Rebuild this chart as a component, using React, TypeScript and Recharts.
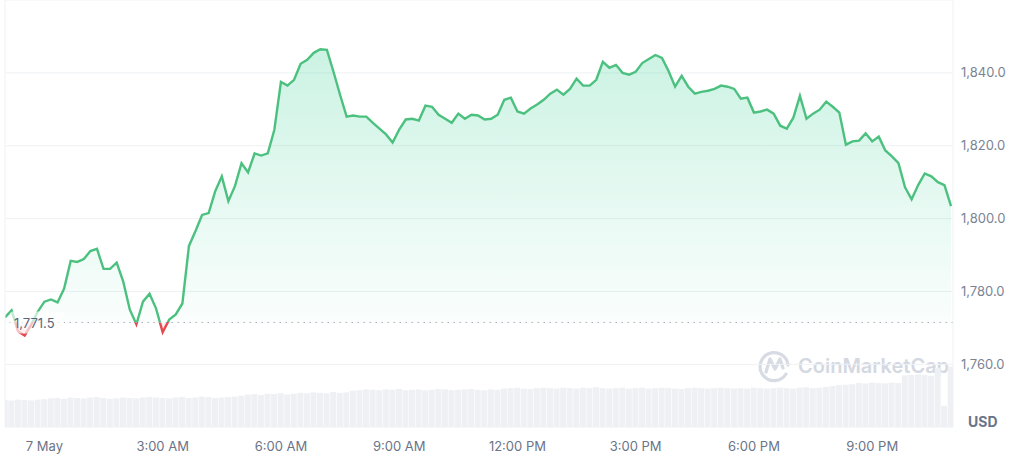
import {
  Area,
  Bar,
  CartesianGrid,
  ComposedChart,
  ReferenceLine,
  XAxis,
  YAxis,
} from "recharts";

// ETH / USD, 1D view, one point every 10 minutes starting 23:00 the day before
const startHour = -1;
const stepHours = 1 / 6;

const prices = [
  1772.9, 1774.8, 1769.0, 1767.9, 1770.9, 1774.5, 1777.2, 1777.8, 1777.0, 1780.8,
  1788.4, 1788.1, 1788.9, 1791.1, 1791.7, 1786.2, 1786.2, 1787.9, 1782.7, 1775.0,
  1771.0, 1777.2, 1779.4, 1775.3, 1768.8, 1772.3, 1773.7, 1776.7, 1792.5, 1796.6,
  1801.0, 1801.5, 1807.5, 1811.6, 1804.8, 1808.9, 1815.2, 1812.7, 1817.9, 1817.3,
  1817.9, 1824.4, 1837.5, 1836.5, 1838.1, 1842.5, 1843.6, 1845.5, 1846.5, 1846.3,
  1840.3, 1834.0, 1828.0, 1828.3, 1828.0, 1828.0, 1826.3, 1824.7, 1823.1, 1820.9,
  1824.4, 1827.2, 1827.4, 1826.9, 1831.0, 1830.7, 1828.5, 1827.4, 1826.3, 1828.8,
  1827.4, 1828.5, 1828.3, 1827.2, 1827.4, 1828.5, 1832.6, 1833.2, 1829.4, 1828.8,
  1830.2, 1831.3, 1832.6, 1834.3, 1835.4, 1834.0, 1835.6, 1838.4, 1836.5, 1836.5,
  1838.1, 1843.0, 1841.4, 1842.2, 1840.0, 1839.5, 1840.3, 1842.7, 1843.8, 1844.9,
  1844.1, 1840.5, 1836.2, 1839.2, 1836.2, 1834.3, 1834.8, 1835.1, 1835.6, 1836.5,
  1836.2, 1835.6, 1832.9, 1833.2, 1829.1, 1829.4, 1829.9, 1828.8, 1825.5, 1824.7,
  1827.7, 1833.7, 1827.4, 1828.8, 1829.9, 1832.1, 1830.7, 1829.1, 1820.3, 1821.2,
  1821.4, 1823.4, 1821.2, 1822.5, 1818.7, 1817.1, 1815.2, 1808.6, 1805.3, 1809.2,
  1812.4, 1811.6, 1810.0, 1809.2, 1803.4,
];

// 24h volume, billions USD
const volumes = [
  6.3, 6.2, 6.4, 6.3, 6.2, 6.4, 6.5, 6.7, 6.8, 6.6,
  6.9, 6.8, 6.7, 6.9, 7.0, 6.8, 6.6, 6.7, 6.9, 6.8,
  6.7, 6.9, 7.0, 6.9, 6.8, 6.7, 6.9, 7.0, 6.8, 6.9,
  7.1, 7.0, 6.8, 6.9, 7.0, 7.1, 7.3, 7.6, 7.7, 7.5,
  7.8, 7.7, 7.9, 7.6, 7.8, 8.0, 7.9, 8.1, 8.0, 7.9,
  8.2, 8.0, 8.1, 8.5, 8.6, 8.8, 8.7, 8.6, 8.8, 8.7,
  8.9, 8.6, 8.7, 8.8, 8.6, 8.7, 8.9, 8.8, 8.6, 8.7,
  8.8, 8.9, 8.7, 8.6, 8.8, 8.7, 9.0, 9.1, 9.2, 9.0,
  8.9, 9.1, 9.2, 9.1, 9.0, 9.2, 9.1, 9.0, 9.2, 9.1,
  9.3, 9.1, 9.0, 9.1, 9.2, 9.0, 9.1, 9.2, 9.0, 9.1,
  9.2, 9.1, 9.0, 8.9, 9.1, 9.2, 9.1, 9.0, 9.1, 9.2,
  9.1, 9.0, 9.1, 9.0, 9.2, 9.1, 9.0, 9.1, 9.2, 9.1,
  9.0, 9.2, 9.3, 9.1, 9.2, 9.4, 9.6, 9.8, 9.9, 10.0,
  10.3, 10.2, 10.4, 10.3, 10.2, 10.4, 10.3, 12.1, 12.2, 12.3,
  12.2, 12.0, 13.8, 5.0, 14.1,
];

const timeTicks = [0, 3, 6, 9, 12, 15, 18, 21];
const timeLabels = ["7 May", "3:00 AM", "6:00 AM", "9:00 AM", "12:00 PM", "3:00 PM", "6:00 PM", "9:00 PM"];
const priceTicks = [1760, 1780, 1800, 1820, 1840];
const openPrice = 1771.5;

const data = prices.map((p, i) => ({
  t: startHour + i * stepHours,
  price: p,
  volume: volumes[i],
}));

const hi = Math.max(...prices);
const lo = Math.min(...prices);
const split = (hi - openPrice) / (hi - lo);

const GREEN = "#4cc17f";
const RED = "#e5484d";
const GRID = "#eff1f4";

function OpenLabel(props: any) {
  const { viewBox } = props;
  if (!viewBox) return null;
  const y = viewBox.y;
  return (
    <g>
      <rect x={viewBox.x + 5} y={y - 11} width={54} height={22} fill="#fff" fillOpacity={0.65} rx={3} />
      <text x={viewBox.x + 9} y={y + 1} dy="0.35em" fontSize={13} fill="#58667e">
        1,771.5
      </text>
    </g>
  );
}

export default function App() {
  return (
    <div style={{ position: "absolute", left: 0, top: 0, width: 1024, height: 464, fontFamily: "Inter, sans-serif", background: "#fff" }}>
      <svg width={1024} height={464} style={{ position: "absolute", left: 0, top: 0 }}>
        <g fill="none" stroke="#d6dbe4" strokeWidth={3.2} strokeLinecap="round" strokeLinejoin="round">
          <path d="M 786 374 A 14 14 0 1 1 788 365" />
          <path d="M 766 372 L 770 359 L 775 369 L 780 359 L 783 368" />
        </g>
        <text x={798} y={373} fontSize={20} fontWeight={600} fill="#d3d8e1">
          CoinMarketCap
        </text>
        <text x={968} y={427} fontSize={14} fontWeight={700} fill="#6b7487">
          USD
        </text>
      </svg>
      <div style={{ position: "absolute", left: 0, top: 0 }}>
        <ComposedChart width={1024} height={464} data={data} margin={{ top: 0, right: 0, bottom: 0, left: 5 }}>
          <defs>
            <linearGradient id="cmcStroke" x1="0" y1="0" x2="0" y2="1">
              <stop offset={0} stopColor={GREEN} />
              <stop offset={split} stopColor={GREEN} />
              <stop offset={split} stopColor={RED} />
              <stop offset={1} stopColor={RED} />
            </linearGradient>
            <linearGradient id="cmcFill" x1="0" y1="0" x2="0" y2="1">
              <stop offset={0} stopColor="#16c784" stopOpacity={0.22} />
              <stop offset={split} stopColor="#16c784" stopOpacity={0.02} />
              <stop offset={split} stopColor={RED} stopOpacity={0.06} />
              <stop offset={1} stopColor={RED} stopOpacity={0.3} />
            </linearGradient>
          </defs>
          <CartesianGrid yAxisId="price" vertical={false} stroke={GRID} />
          <XAxis
            dataKey="t"
            type="number"
            domain={[-1, 23.05]}
            allowDataOverflow
            ticks={timeTicks}
            tickFormatter={(v) => timeLabels[timeTicks.indexOf(v)] ?? ""}
            axisLine={false}
            tickLine={false}
            tickSize={0}
            tickMargin={15}
            height={37}
            tick={{ fontSize: 13, fill: "#6b7487" }}
          />
          <YAxis
            yAxisId="price"
            orientation="right"
            domain={[1742.8, 1860]}
            allowDataOverflow
            ticks={priceTicks}
            tickFormatter={(v) => v.toLocaleString("en-US", { minimumFractionDigits: 1 })}
            axisLine={{ stroke: GRID }}
            tickLine={false}
            tickSize={0}
            tickMargin={8}
            width={71}
            tick={{ fontSize: 13, fill: "#7a8394" }}
          />
          <YAxis yAxisId="vol" hide domain={[0, 100]} />
          <ReferenceLine yAxisId="price" x={-1} stroke={GRID} />
          <Bar yAxisId="vol" dataKey="volume" fill="#eef0f4" barSize={6} isAnimationActive={false} />
          <Area
            yAxisId="price"
            type="linear"
            dataKey="price"
            baseValue={openPrice}
            stroke="url(#cmcStroke)"
            strokeWidth={2.4}
            fill="url(#cmcFill)"
            fillOpacity={1}
            dot={false}
            activeDot={false}
            isAnimationActive={false}
          />
          <ReferenceLine
            yAxisId="price"
            y={openPrice}
            stroke="#a9b1c0"
            strokeDasharray="1.5 4.5"
            label={<OpenLabel />}
          />
        </ComposedChart>
      </div>
    </div>
  );
}
